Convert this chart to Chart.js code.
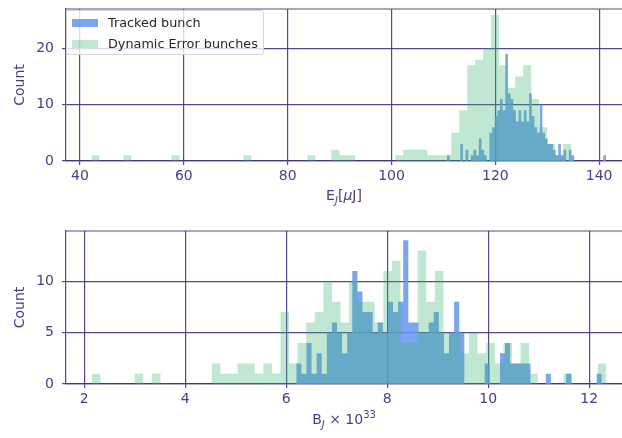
<!DOCTYPE html>
<html>
<head>
<meta charset="utf-8">
<script src="https://cdn.jsdelivr.net/npm/chart.js@4.4.0/dist/chart.umd.min.js"></script>
<style>
  body { margin: 0; width: 622px; height: 438px; overflow: hidden; background: #fff; position: relative; font-family: 'DejaVu Sans', sans-serif; }
  .panel { position: absolute; left: 0; width: 622px; }
  .xlabel { position: absolute; left: 66px; width: 556px; text-align: center; color: #483d8b; font-size: 14px; line-height: 16px; }
  .xlabel sub, .xlabel sup { font-size: 10px; line-height: 0; }
  #legend { position: absolute; left: 66px; top: 10px; width: 198px; height: 45px; box-sizing: border-box; padding: 1px 0 0 5px; background: rgba(255,255,255,0.8); border: 1px solid #d4d4d4; border-radius: 3px; font-size: 12.8px; color: #262626; }
  #legend div { height: 21px; line-height: 21px; white-space: nowrap; }
  #legend span { display: inline-block; width: 26px; height: 8px; margin-right: 10px; vertical-align: 0px; }
</style>
</head>
<body>
<div class="panel" style="top:0;height:205px"><canvas id="energyChart"></canvas></div>
<div class="panel" style="top:222px;height:205px"><canvas id="lumiChart"></canvas></div>
<div id="legend">
  <div><span style="background:rgba(100,149,237,0.85)"></span>Tracked bunch</div>
  <div><span style="background:rgba(60,179,113,0.32)"></span>Dynamic Error bunches</div>
</div>
<div class="xlabel" style="top:187px">E<sub><i>J</i></sub>[<i>μ</i>J]</div>
<div class="xlabel" style="top:411px">B<sub><i>J</i></sub> × 10<sup>33</sup></div>
<script>
  var ACCENT = '#483d8b';
  var GRID = 'rgba(64, 52, 140, 0.9)';
  var TRACKED_COLOR = 'rgba(100, 149, 237, 0.85)';
  var ERROR_COLOR = 'rgba(60, 179, 113, 0.32)';

  // 上图: 能量分布
  var energyTicks = [40, 60, 80, 100, 120, 140];
  var energyCountTicks = [0, 10, 20];
  var energyAxisRange = [37.3, 144.4];
  var energyCountMax = 27;
  var energyTrackedRange = [110.7, 141.3];
  var energyTrackedCounts = [
    1, 0, 0, 0, 0, 3, 0, 2, 0, 1,
    2, 1, 4, 2, 1, 0, 5, 6, 8, 9,
    11, 9, 19, 12, 11, 9, 7, 9, 7, 9,
    7, 12, 8, 6, 5, 10, 5, 4, 3, 3,
    2, 1, 3, 1, 2, 0, 2, 1, 0, 0,
    0, 0, 0, 0, 0, 0, 0, 0, 0, 1
  ];
  var energyErrorRange = [42.2, 134.6];
  var energyErrorCounts = [
    1, 0, 0, 0, 1, 0, 0, 0, 0, 0,
    1, 0, 0, 0, 0, 0, 0, 0, 0, 1,
    0, 0, 0, 0, 0, 0, 0, 1, 0, 0,
    2, 1, 1, 0, 0, 0, 0, 0, 1, 2,
    2, 2, 1, 1, 1, 5, 9, 17, 18, 20,
    26, 17, 13, 15, 17, 11, 6, 3, 1, 3
  ];

  // 下图: 亮度分布
  var lumiTicks = [2, 4, 6, 8, 10, 12];
  var lumiCountTicks = [0, 5, 10];
  var lumiAxisRange = [1.64, 12.65];
  var lumiCountMax = 14.9;
  var lumiTrackedRange = [6.2, 12.25];
  var lumiTrackedCounts = [
    2, 1, 4, 1, 3, 1, 5, 6, 5, 3,
    5, 11, 9, 7, 7, 5, 6, 5, 8, 7,
    8, 14, 6, 6, 5, 5, 6, 7, 5, 3,
    5, 8, 5, 0, 0, 0, 0, 2, 0, 0,
    3, 4, 2, 2, 2, 2, 0, 0, 0, 1,
    0, 0, 0, 1, 0, 0, 0, 0, 0, 1
  ];
  var lumiErrorRange = [2.151, 12.34];
  var lumiErrorCounts = [
    1, 0, 0, 0, 0, 1, 0, 1, 0, 0,
    0, 0, 0, 0, 2, 1, 1, 2, 2, 1,
    2, 1, 7, 2, 4, 6, 7, 10, 8, 6,
    10, 8, 8, 6, 11, 12, 4, 4, 13, 8,
    11, 5, 5, 3, 5, 3, 4, 2, 4, 2,
    4, 1, 0, 0, 0, 1, 0, 0, 0, 2
  ];

  /**
   * 把直方图计数转换为阶梯线的点
   */
  function histPoints(range, counts) {
    var w = (range[1] - range[0]) / counts.length;
    var pts = counts.map(function(c, i) {
      return { x: range[0] + w * i, y: c };
    });
    pts.push({ x: range[1], y: counts[counts.length - 1] });
    return pts;
  }

  function histDataset(label, range, counts, color) {
    return {
      label: label,
      data: histPoints(range, counts),
      stepped: 'before',
      fill: 'origin',
      backgroundColor: color,
      borderColor: 'transparent',
      borderWidth: 0,
      pointRadius: 0
    };
  }

  // 顶部边框
  var frameTop = {
    id: 'frameTop',
    afterDraw: function(chart) {
      var a = chart.chartArea, ctx = chart.ctx;
      ctx.save();
      ctx.strokeStyle = GRID;
      ctx.lineWidth = 1.2;
      ctx.beginPath();
      ctx.moveTo(a.left, a.top);
      ctx.lineTo(a.right, a.top);
      ctx.stroke();
      ctx.restore();
    }
  };

  function makeChart(id, xRange, xTicks, yMax, yTicks, trackedRange, trackedCounts, errorRange, errorCounts, xHeight) {
    return new Chart(document.getElementById(id), {
      type: 'line',
      data: {
        datasets: [
          histDataset('Dynamic Error bunches', errorRange, errorCounts, ERROR_COLOR),
          histDataset('Tracked bunch', trackedRange, trackedCounts, TRACKED_COLOR)
        ]
      },
      options: {
        responsive: true,
        maintainAspectRatio: false,
        animation: false,
        layout: { padding: { top: 9, left: 0, right: 0, bottom: 0 } },
        plugins: {
          legend: { display: false },
          tooltip: { enabled: false }
        },
        scales: {
          x: {
            type: 'linear',
            min: xRange[0],
            max: xRange[1],
            afterBuildTicks: function(s) {
              s.ticks = xTicks.map(function(v) { return { value: v }; });
            },
            afterFit: function(s) { s.height = xHeight; },
            grid: { color: GRID, lineWidth: 1.2, tickLength: 4, tickColor: GRID },
            border: { color: GRID, width: 1.2 },
            ticks: { color: ACCENT, font: { family: 'DejaVu Sans', size: 14 }, padding: 3, maxRotation: 0 }
          },
          y: {
            min: 0,
            max: yMax,
            afterBuildTicks: function(s) {
              s.ticks = yTicks.map(function(v) { return { value: v }; });
            },
            afterFit: function(s) {
              s.width = 66;
              s.paddingTop = 0;
              s.paddingBottom = 0;
            },
            grid: { color: GRID, lineWidth: 1.2, tickLength: 4, tickColor: GRID },
            border: { color: GRID, width: 1.2 },
            ticks: { color: ACCENT, font: { family: 'DejaVu Sans', size: 14 }, padding: 8 },
            title: {
              display: true,
              text: 'Count',
              color: ACCENT,
              font: { family: 'DejaVu Sans', size: 14 },
              padding: { top: 12, bottom: 0 }
            }
          }
        }
      },
      plugins: [frameTop]
    });
  }

  makeChart('energyChart', energyAxisRange, energyTicks, energyCountMax, energyCountTicks,
    energyTrackedRange, energyTrackedCounts, energyErrorRange, energyErrorCounts, 44);
  makeChart('lumiChart', lumiAxisRange, lumiTicks, lumiCountMax, lumiCountTicks,
    lumiTrackedRange, lumiTrackedCounts, lumiErrorRange, lumiErrorCounts, 43);
</script>
</body>
</html>
